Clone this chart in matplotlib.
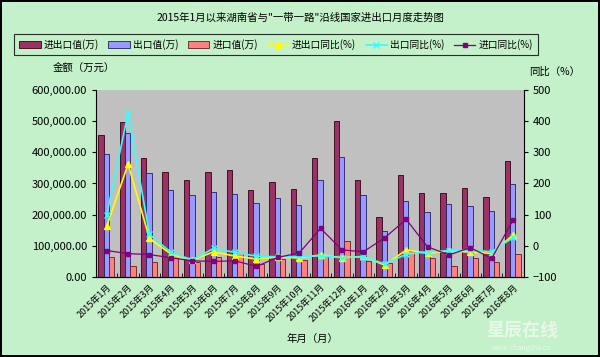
import numpy as np
import matplotlib
matplotlib.use("Agg")
import matplotlib.pyplot as plt
from matplotlib.ticker import FuncFormatter, MultipleLocator

plt.rcParams['font.family'] = ['Noto Sans CJK SC', 'DejaVu Sans']

months = ["2015年1月", "2015年2月", "2015年3月", "2015年4月", "2015年5月",
          "2015年6月", "2015年7月", "2015年8月", "2015年9月", "2015年10月",
          "2015年11月", "2015年12月", "2016年1月", "2016年2月", "2016年3月",
          "2016年4月", "2016年5月", "2016年6月", "2016年7月", "2016年8月"]

# 万元
total = [457000, 498000, 381000, 337000, 311000, 337000, 342000, 278000, 306000, 281000,
         383000, 500000, 311000, 194000, 327000, 268000, 268000, 286000, 258000, 372000]
export = [396000, 462000, 335000, 278000, 263000, 274000, 266000, 236000, 252000, 231000,
          311000, 386000, 263000, 149000, 245000, 210000, 233000, 227000, 212000, 298000]
imports = [63000, 36000, 47000, 60000, 48000, 65000, 76000, 41000, 57000, 54000,
           70000, 115000, 51000, 45000, 85000, 60000, 36000, 62000, 47000, 75000]

# %
total_yoy = [63, 262, 24, -26, -46, -19, -33, -42, -36, -39,
             -29, -38, -34, -62, -13, -24, -16, -20, -24, 35]
export_yoy = [100, 426, 37, -21, -45, -8, -21, -33, -35, -34,
              -32, -38, -35, -58, -27, -19, -16, -13, -19, 27]
import_yoy = [-15, -25, -28, -38, -48, -50, -48, -66, -37, -23,
              56, -13, -19, 26, 85, -3, -29, -6, -40, 83]

bg = "#C4F0CA"
fig = plt.figure(figsize=(6, 3.57), dpi=100)
fig.patch.set_facecolor(bg)
fig.patch.set_edgecolor("black")
fig.patch.set_linewidth(1.5)

ax = fig.add_axes([0.16, 0.224, 0.713, 0.524])
ax.set_facecolor("#C0C0C0")
x = np.arange(len(months))
w = 0.25
b1 = ax.bar(x - 0.27, total, w, color="#993366", edgecolor="#330011", linewidth=0.6, label="进出口值(万)")
b2 = ax.bar(x - 0.02, export, w, color="#9999FF", edgecolor="#202060", linewidth=0.6, label="出口值(万)")
b3 = ax.bar(x + 0.23, imports, w, color="#FF8080", edgecolor="#602020", linewidth=0.6, label="进口值(万)")
ax.set_xlim(-0.5, len(months) - 0.5)
ax.set_ylim(0, 600000)
ax.yaxis.set_major_locator(MultipleLocator(100000))
ax.yaxis.set_major_formatter(FuncFormatter(lambda v, p: f"{v:,.2f}"))
ax.set_xticks(x)
ax.set_xticklabels(months, rotation=45, ha="right", rotation_mode="anchor", fontsize=6.5)
ax.set_xticks(np.arange(-0.5, len(months), 1), minor=True)
ax.tick_params(axis="x", which="major", length=0, pad=4)
ax.tick_params(axis="x", which="minor", length=3, direction="in")
ax.tick_params(axis="y", labelsize=8, length=3)

ax2 = ax.twinx()
ax2.set_ylim(-100, 500)
ax2.yaxis.set_major_locator(MultipleLocator(100))
ax2.tick_params(axis="y", labelsize=8, length=3)
l1, = ax2.plot(x, total_yoy, color="#FFFF00", marker="^", markersize=4, linewidth=1.2, label="进出口同比(%)")
l2, = ax2.plot(x, export_yoy, color="#33FFFF", marker="x", markersize=4, linewidth=1.2, label="出口同比(%)")
l3, = ax2.plot(x, import_yoy, color="#800080", marker="s", markersize=2.5, linewidth=0.9, label="进口同比(%)")
ax2.set_zorder(ax.get_zorder() + 1)

for a in (ax, ax2):
    for s in ("top", "right"):
        a.spines[s].set_visible(False)
ax2.spines["left"].set_visible(False)
ax2.spines["right"].set_visible(True)

fig.text(0.5, 0.952, "2015年1月以来湖南省与\"一带一路\"沿线国家进出口月度走势图",
         ha="center", va="center", fontsize=7.5)
fig.text(0.14, 0.81, "金额（万元）", ha="center", va="center", fontsize=7.5)
fig.text(0.925, 0.80, "同比（%）", ha="center", va="center", fontsize=7.5)
fig.text(0.52, 0.05, "年月（月）", ha="center", va="center", fontsize=7.5)

leg = fig.legend(handles=[b1, b2, b3, l1, l2, l3], loc="center",
                 bbox_to_anchor=(0.46, 0.875), ncol=6, fontsize=7,
                 frameon=True, fancybox=False, edgecolor="black",
                 facecolor=bg, handlelength=2.2, handletextpad=0.3,
                 columnspacing=1.0, borderpad=0.5)
leg.get_frame().set_linewidth(0.8)

fig.text(0.87, 0.075, "星辰在线", ha="center", va="center", fontsize=13,
         color="white", alpha=0.6, fontweight="bold")
fig.text(0.87, 0.025, "www.changsha.cn", ha="center", va="center", fontsize=5,
         color="white", alpha=0.6)

fig.savefig("out.png", dpi=100, facecolor=fig.get_facecolor(), edgecolor=fig.get_edgecolor())
